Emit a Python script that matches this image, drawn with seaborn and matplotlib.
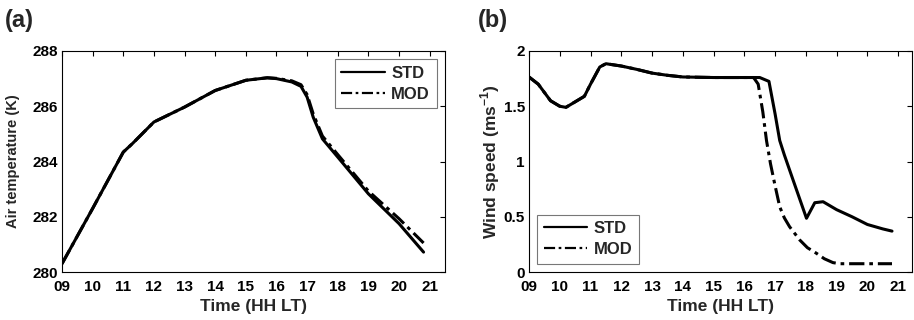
import numpy as np
import pandas as pd
import matplotlib
matplotlib.use("Agg")
import matplotlib.pyplot as plt
import seaborn as sns

sns.set_theme(style="white")
plt.rcParams['font.family'] = ['Liberation Sans', 'DejaVu Sans']
plt.rcParams['font.weight'] = 'bold'
plt.rcParams['axes.labelweight'] = 'bold'
plt.rcParams['mathtext.fontset'] = 'custom'
plt.rcParams['mathtext.rm'] = 'Liberation Sans:bold'
plt.rcParams['mathtext.bf'] = 'Liberation Sans:bold'

# ---- Data ----
t_std_a = [9.0, 10.0, 11.0, 11.3, 12.0, 13.0, 14.0, 15.0, 15.7, 16.0, 16.5, 16.8, 17.0, 17.2, 17.5, 18.0, 19.0, 20.0, 20.8]
temp_std = [280.3, 282.3, 284.34, 284.65, 285.43, 285.97, 286.57, 286.94, 287.03, 287.0, 286.88, 286.72, 286.33, 285.6, 284.82, 284.16, 282.83, 281.75, 280.72]
t_mod_a = [9.0, 10.0, 11.0, 11.3, 12.0, 13.0, 14.0, 15.0, 15.7, 16.0, 16.5, 16.8, 17.0, 17.2, 17.5, 18.0, 19.0, 20.0, 20.8]
temp_mod = [280.3, 282.3, 284.34, 284.65, 285.43, 285.97, 286.57, 286.94, 287.03, 287.01, 286.92, 286.78, 286.42, 285.72, 284.92, 284.25, 282.93, 281.93, 281.05]

t_std_b = [9.0, 9.3, 9.7, 10.0, 10.2, 10.5, 10.8, 11.0, 11.3, 11.5, 12.0, 12.5, 13.0, 13.5, 14.0, 15.0, 16.0, 16.5, 16.8, 17.0, 17.15, 17.3, 17.6, 18.02, 18.29, 18.56, 19.0, 19.5, 20.0, 20.5, 20.8]
wind_std = [1.765, 1.70, 1.55, 1.50, 1.49, 1.54, 1.59, 1.70, 1.855, 1.885, 1.864, 1.834, 1.80, 1.78, 1.765, 1.76, 1.76, 1.76, 1.725, 1.43, 1.19, 1.06, 0.82, 0.486, 0.627, 0.636, 0.564, 0.50, 0.43, 0.39, 0.37]
t_mod_b = [9.0, 9.3, 9.7, 10.0, 10.2, 10.5, 10.8, 11.0, 11.3, 11.5, 12.0, 12.5, 13.0, 13.5, 14.0, 15.0, 16.0, 16.3, 16.45, 16.6, 16.72, 16.85, 17.0, 17.15, 17.3, 17.47, 17.8, 18.05, 18.34, 18.6, 18.88, 19.1, 20.8]
wind_mod = [1.765, 1.70, 1.55, 1.50, 1.49, 1.54, 1.59, 1.70, 1.855, 1.885, 1.864, 1.834, 1.80, 1.78, 1.765, 1.76, 1.76, 1.76, 1.70, 1.45, 1.19, 0.98, 0.78, 0.59, 0.49, 0.41, 0.29, 0.22, 0.17, 0.12, 0.085, 0.075, 0.075]

xticks = [9, 10, 11, 12, 13, 14, 15, 16, 17, 18, 19, 20, 21]
xticklabels = ["09", "10", "11", "12", "13", "14", "15", "16", "17", "18", "19", "20", "21"]
yticks_a = [280, 282, 284, 286, 288]
yticks_b = [0, 0.5, 1, 1.5, 2]
yticklabels_b = ["0", "0.5", "1", "1.5", "2"]

fig = plt.figure(figsize=(9.14, 3.2), dpi=100)
W, H = 914, 320

def add_ax(left, top, right, bottom):
    return fig.add_axes([left / W, 1 - bottom / H, (right - left) / W, (bottom - top) / H])

ax_a = add_ax(62, 51, 445, 272)
ax_b = add_ax(529, 51, 912, 272)

dashdot = (5, 1.6, 1.2, 1.6)

def style_ax(ax):
    ax.set_facecolor("white")
    for s in ax.spines.values():
        s.set_visible(True)
        s.set_color("black")
        s.set_linewidth(0.8)
    ax.tick_params(direction="in", top=True, right=True, length=3.5, width=0.8,
                   labelsize=11, colors="black")
    ax.tick_params(axis="x", pad=6)
    ax.tick_params(axis="y", pad=3)
    for lab in ax.get_xticklabels() + ax.get_yticklabels():
        lab.set_fontweight("bold")

# Panel (a)
sns.lineplot(x=t_std_a, y=temp_std, ax=ax_a, color="black", lw=2.2, label="STD")
sns.lineplot(x=t_mod_a, y=temp_mod, ax=ax_a, color="black", lw=2.2, label="MOD",
             dashes=False, linestyle=(0, dashdot))
ax_a.set_xlim(9, 21.5)
ax_a.set_ylim(280, 288)
ax_a.set_xticks(xticks)
ax_a.set_xticklabels(xticklabels)
ax_a.set_yticks(yticks_a)
ax_a.set_xlabel("Time (HH LT)", fontsize=12.5, fontweight="bold", va="center")
ax_a.set_ylabel("Air temperature (K)", fontsize=10.5, fontweight="bold", va="center")
ax_a.xaxis.set_label_coords(0.5, -0.155)
ax_a.yaxis.set_label_coords(-0.128, 0.5)
style_ax(ax_a)

# Panel (b)
sns.lineplot(x=t_std_b, y=wind_std, ax=ax_b, color="black", lw=2.2, label="STD")
sns.lineplot(x=t_mod_b, y=wind_mod, ax=ax_b, color="black", lw=2.2, label="MOD",
             dashes=False, linestyle=(0, dashdot))
ax_b.set_xlim(9, 21.45)
ax_b.set_ylim(0, 2)
ax_b.set_xticks(xticks)
ax_b.set_xticklabels(xticklabels)
ax_b.set_yticks(yticks_b)
ax_b.set_yticklabels(yticklabels_b)
ax_b.set_xlabel("Time (HH LT)", fontsize=12.5, fontweight="bold", va="center")
ax_b.set_ylabel("Wind speed (ms$^{-1}$)", fontsize=12.5, fontweight="bold", va="center")
ax_b.xaxis.set_label_coords(0.5, -0.155)
ax_b.yaxis.set_label_coords(-0.102, 0.5)
style_ax(ax_b)

for ax, loc in [(ax_a, "upper right"), (ax_b, "lower left")]:
    leg = ax.legend(loc=loc, frameon=True, fancybox=False,
                    handlelength=2.6, handletextpad=0.4, borderpad=0.4,
                    labelspacing=0.35, borderaxespad=0.5, prop={"weight": "bold", "size": 12})
    leg.get_frame().set_edgecolor("#555555")
    leg.get_frame().set_linewidth(0.8)
    for line in leg.get_lines():
        line.set_linewidth(1.6)

fig.text(5 / W, 1 - 9 / H, "(a)", fontsize=17, fontweight="bold", va="top", ha="left")
fig.text(478 / W, 1 - 9 / H, "(b)", fontsize=17, fontweight="bold", va="top", ha="left")

fig.savefig("out.png", dpi=100, facecolor="white")
